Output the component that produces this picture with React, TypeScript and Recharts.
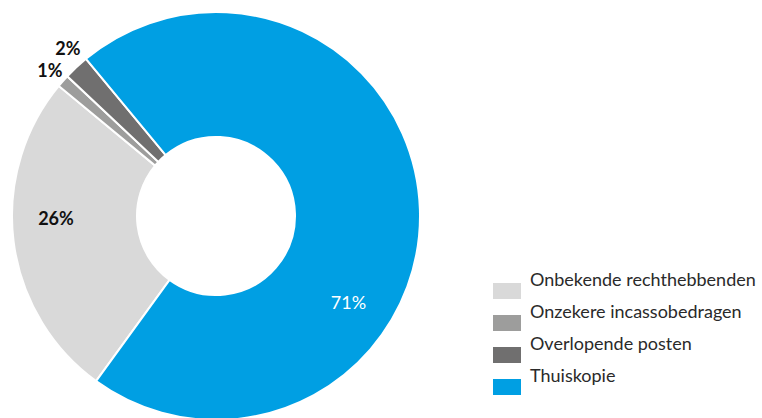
import { PieChart, Pie, Cell } from "recharts";

// share per category
const categories = [
  "Onbekende rechthebbenden",
  "Onzekere incassobedragen",
  "Overlopende posten",
  "Thuiskopie",
];
const shares = [26, 1, 2, 71];
const COLORS = ["#d9d9d9", "#9d9d9c", "#706f6f", "#009fe3"];

const data = categories.map((name, i) => ({ name, value: shares[i] }));

const FONT = "Lato, 'Noto Sans', sans-serif";

// label placement per slice (angle in degrees, radius), like the original layout
const LABEL_POS = [
  { angle: 180.7, r: 160, fill: "#111", weight: 700 },
  { angle: 138.7, r: 221, fill: "#111", weight: 700 },
  { angle: 131.4, r: 224, fill: "#111", weight: 700 },
  { angle: -33, r: 158, fill: "#fff", weight: 400 },
];

const RAD = Math.PI / 180;

const renderLabel = (props: any) => {
  const { cx, cy, index, value } = props;
  const p = LABEL_POS[index];
  const x = cx + p.r * Math.cos(p.angle * RAD);
  const y = cy - p.r * Math.sin(p.angle * RAD);
  return (
    <text
      x={x}
      y={y}
      fill={p.fill}
      textAnchor="middle"
      dominantBaseline="central"
      fontSize={18}
      fontWeight={p.weight}
      fontFamily={FONT}
    >
      {value}%
    </text>
  );
};

function ChartLegend() {
  return (
    <div
      style={{
        position: "absolute",
        left: 493,
        top: 273,
        width: 269,
        fontFamily: FONT,
      }}
    >
      {categories.map((c, i) => (
        <div key={c} style={{ position: "relative", height: 32 }}>
          <div
            style={{
              position: "absolute",
              left: 0,
              top: 10,
              width: 28,
              height: 16,
              background: COLORS[i],
            }}
          />
          <div
            style={{
              position: "absolute",
              left: 37,
              top: -5,
              fontSize: 18,
              fontWeight: 400,
              color: "#2a2a2a",
              whiteSpace: "nowrap",
            }}
          >
            {c}
          </div>
        </div>
      ))}
    </div>
  );
}

export default function App() {
  return (
    <div
      style={{
        position: "absolute",
        left: 0,
        top: 0,
        width: 762,
        height: 418,
        background: "#fff",
        overflow: "hidden",
      }}
    >
      <PieChart
        width={762}
        height={418}
        margin={{ top: 0, right: 0, bottom: 0, left: 0 }}
      >
        <Pie
          data={data}
          dataKey="value"
          nameKey="name"
          cx={216}
          cy={216}
          innerRadius={79}
          outerRadius={204}
          startAngle={234}
          endAngle={-126}
          stroke="#fff"
          strokeWidth={2}
          label={renderLabel}
          labelLine={false}
          isAnimationActive={false}
        >
          {data.map((_, i) => (
            <Cell key={i} fill={COLORS[i]} />
          ))}
        </Pie>
      </PieChart>
      <ChartLegend />
    </div>
  );
}
